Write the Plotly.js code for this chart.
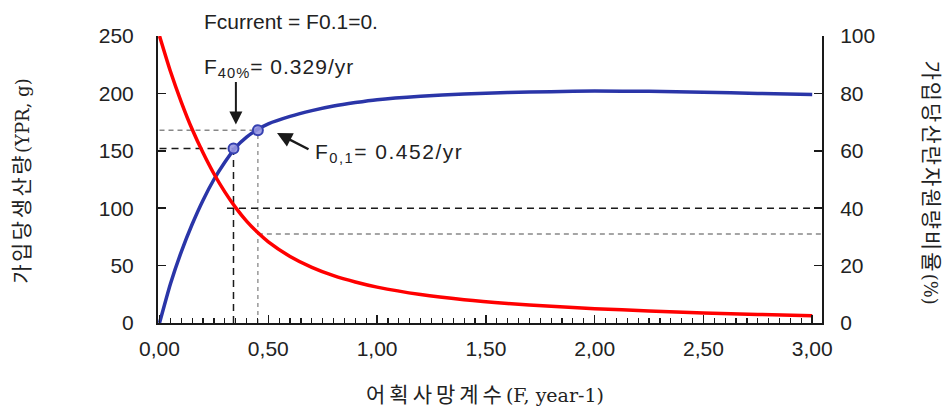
<!DOCTYPE html>
<html>
<head>
<meta charset="utf-8">
<script src="https://cdn.plot.ly/plotly-3.0.1.min.js"></script>
<style>html,body{margin:0;padding:0;background:#fff;}#chart{width:949px;height:412px;}</style>
</head>
<body>
<div id="chart"></div>
<script>
// Fishing mortality grid (F, year-1)
const F = [0, 0.05, 0.1, 0.15, 0.2, 0.25, 0.3, 0.35, 0.4, 0.45, 0.5, 0.6, 0.7, 0.8, 0.9, 1.0, 1.2, 1.4, 1.6, 1.8, 2.0, 2.25, 2.5, 2.75, 3.0];
// Yield per recruit (g)
const YPR = [0, 34, 62, 86, 107, 125, 140, 153, 162, 168.5, 173.5, 180, 185, 189, 192, 194.5, 197.5, 199.5, 200.8, 201.5, 202, 201.8, 201, 200, 199];
// Spawning biomass per recruit ratio (%)
const SPR = [100, 87.7, 77, 67.5, 59.3, 52, 45.7, 40.2, 35.5, 31.6, 28.3, 23.2, 19.4, 16.5, 14.3, 12.5, 9.9, 8.1, 6.8, 5.8, 5.0, 4.2, 3.5, 3.0, 2.5];

// Reference points
const F40 = 0.34, YPR_F40 = 152, SPR_F40 = 40;
const F01 = 0.452, YPR_F01 = 168, SPR_F01 = 31;
const F_END = 3.045;

const xTickVals = [0, 0.5, 1, 1.5, 2, 2.5, 3];
const xTickText = ["0,00", "0,50", "1,00", "1,50", "2,00", "2,50", "3,00"];

const black = '#1a1a1a';
const tickFont = {family: 'Liberation Sans, Arial, sans-serif', size: 21, color: '#222'};
const korFont = {family: 'Noto Sans CJK KR, sans-serif', size: 21, color: '#222'};
const annFont = {family: 'Liberation Sans, Arial', size: 21, color: '#222'};

function kor(s, sp) { return '<span style="letter-spacing:' + sp + 'px">' + s + '</span>'; }
function lat(s, sz) { return '<span style="font-family:DejaVu Serif;font-size:' + sz + 'px">' + s + '</span>'; }
function wide(s, sp) { return '<span style="letter-spacing:' + sp + 'px">' + s + '</span>'; }

const traces = [
  // black dashed F40 guides
  {x: [0, F40], y: [YPR_F40, YPR_F40], yaxis: 'y', mode: 'lines', line: {color: black, width: 1.5, dash: '7px,5px'}, hoverinfo: 'skip'},
  {x: [F40, F40], y: [0, YPR_F40], yaxis: 'y', mode: 'lines', line: {color: black, width: 1.5, dash: '7px,5px'}, hoverinfo: 'skip'},
  {x: [F40 - 0.03, F_END], y: [SPR_F40, SPR_F40], yaxis: 'y2', mode: 'lines', line: {color: black, width: 1.5, dash: '7px,5px'}, hoverinfo: 'skip'},
  // grey dashed F0.1 guides
  {x: [0, F01], y: [YPR_F01, YPR_F01], yaxis: 'y', mode: 'lines', line: {color: '#888', width: 1.5, dash: '5px,4px'}, hoverinfo: 'skip'},
  {x: [F01, F01], y: [0, YPR_F01], yaxis: 'y', mode: 'lines', line: {color: '#999', width: 1.5, dash: '4px,4px'}, hoverinfo: 'skip'},
  {x: [F01, F_END], y: [SPR_F01, SPR_F01], yaxis: 'y2', mode: 'lines', line: {color: '#888', width: 1.5, dash: '5px,4px'}, hoverinfo: 'skip'},
  // curves
  {x: F, y: SPR, yaxis: 'y2', mode: 'lines', line: {color: '#ff0000', width: 3.5, shape: 'spline', smoothing: 0.6}, hoverinfo: 'skip'},
  {x: F, y: YPR, yaxis: 'y', mode: 'lines', line: {color: '#2a35a8', width: 3.5, shape: 'spline', smoothing: 0.6}, hoverinfo: 'skip'},
  // reference markers
  {x: [F40, F01], y: [YPR_F40, YPR_F01], yaxis: 'y', mode: 'markers',
   marker: {size: 10, color: 'rgba(150,150,225,0.9)', line: {color: '#3540b0', width: 2}}, hoverinfo: 'skip'}
];

const layout = {
  width: 949, height: 412,
  margin: {l: 158, r: 127, t: 36, b: 89},
  paper_bgcolor: '#fff', plot_bgcolor: '#fff',
  showlegend: false,
  xaxis: {
    range: [-0.007, F_END], showgrid: false, zeroline: false,
    showline: true, linecolor: black, linewidth: 2,
    ticks: 'inside', ticklen: 8, tickwidth: 1.5, tickcolor: black,
    tickvals: xTickVals, ticktext: xTickText, tickfont: tickFont,
    ticklabelstandoff: 6,
    minor: {dtick: 0.05, tick0: 0, ticks: 'inside', ticklen: 5, tickwidth: 1.2, tickcolor: black}
  },
  yaxis: {
    range: [0, 250], dtick: 50, showgrid: false, zeroline: false,
    showline: true, linecolor: black, linewidth: 2,
    ticks: 'inside', ticklen: 8, tickwidth: 1.5, tickcolor: black,
    tickfont: tickFont, ticklabelstandoff: 18
  },
  yaxis2: {
    range: [0, 100], dtick: 20, overlaying: 'y', side: 'right',
    showgrid: false, zeroline: false,
    showline: true, linecolor: black, linewidth: 2,
    ticks: 'inside', ticklen: 8, tickwidth: 1.5, tickcolor: black,
    tickfont: tickFont, ticklabelstandoff: 12
  },
  annotations: [
    {xref: 'paper', yref: 'paper', x: 0.066, y: 1.052, xanchor: 'left', yanchor: 'middle',
     text: 'Fcurrent = F0.1=0.', showarrow: false, font: annFont},
    {xref: 'paper', yref: 'paper', x: 0.066, y: 0.888, xanchor: 'left', yanchor: 'middle',
     text: wide('F<sub>40%</sub>= 0.329/yr', 1), showarrow: false, font: annFont},
    {xref: 'x', yref: 'y', x: 0.705, y: 148, xanchor: 'left', yanchor: 'middle',
     text: wide('F<sub>0,1</sub>= 0.452/yr', 1.5), showarrow: false, font: annFont},
    // arrows
    {xref: 'x', yref: 'y', x: 0.351, y: 173, ax: 0, ay: -44, text: '', showarrow: true,
     arrowhead: 2, arrowsize: 1.3, arrowwidth: 2, arrowcolor: black},
    {xref: 'x', yref: 'y', x: 0.54, y: 165.5, ax: 33, ay: 17, text: '', showarrow: true,
     arrowhead: 2, arrowsize: 1.2, arrowwidth: 2.5, arrowcolor: black},
    // axis titles
    {xref: 'paper', yref: 'paper', x: 0.4925, y: -0.244, xanchor: 'center', yanchor: 'middle',
     text: kor('어획사망계수', 4) + lat('(F, year-1)', 19), showarrow: false, font: korFont},
    {xref: 'paper', yref: 'paper', x: -0.208, y: 0.495, xanchor: 'center', yanchor: 'middle', textangle: -90,
     text: kor('가입당생산량', 2.5) + lat('(YPR, g)', 18), showarrow: false, font: korFont},
    {xref: 'paper', yref: 'paper', x: 1.167, y: 0.49, xanchor: 'center', yanchor: 'middle', textangle: 90,
     text: kor('가입당산란자원량비율', 2) + lat('(%)', 18), showarrow: false, font: korFont}
  ]
};

Plotly.newPlot('chart', traces, layout, {staticPlot: true, displayModeBar: false});
</script>
</body>
</html>
